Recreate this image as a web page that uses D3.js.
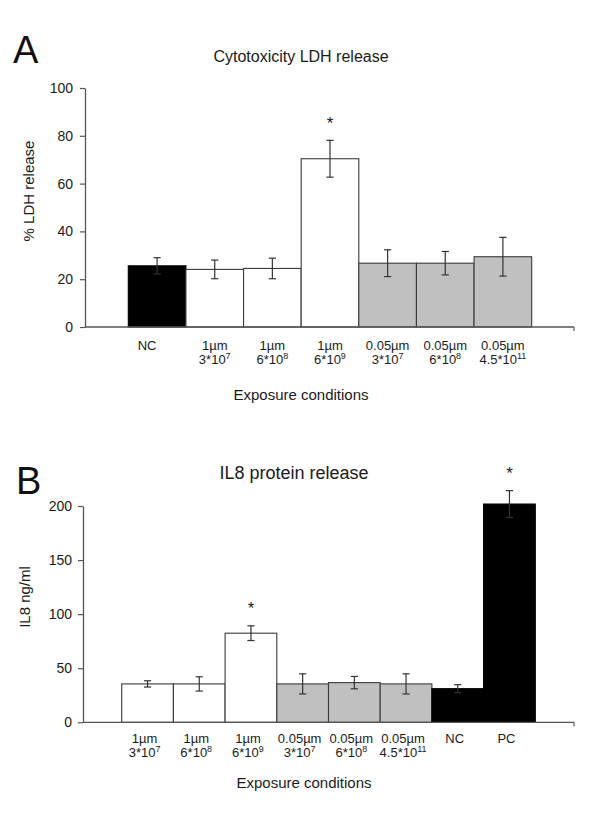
<!DOCTYPE html>
<html>
<head>
<meta charset="utf-8">
<script src="https://cdn.jsdelivr.net/npm/d3@7"></script>
<style>
  html, body { margin: 0; padding: 0; background: #fff; }
  svg { display: block; font-family: "Liberation Sans", Arial, sans-serif; }
</style>
</head>
<body>
<svg id="chart" width="600" height="835"></svg>
<script>
// ---------- Panel A: Cytotoxicity LDH release ----------
const ldhLine1 = ["NC", "1µm", "1µm", "1µm", "0.05µm", "0.05µm", "0.05µm"];
const ldhLine2Base = ["", "3*10", "6*10", "6*10", "3*10", "6*10", "4.5*10"];
const ldhLine2Exp = ["", "7", "8", "9", "7", "8", "11"];
const ldhGroups = ["control", "1µm", "1µm", "1µm", "0.05µm", "0.05µm", "0.05µm"];
const ldhValues = [25.6, 24.1, 24.5, 70.4, 26.7, 26.7, 29.4];
const ldhErrors = [3.4, 3.9, 4.3, 7.7, 5.6, 4.9, 8.1];
const ldhSignificant = [false, false, false, true, false, false, false];
const ldhTicks = [0, 20, 40, 60, 80, 100];

// ---------- Panel B: IL8 protein release ----------
const il8Line1 = ["1µm", "1µm", "1µm", "0.05µm", "0.05µm", "0.05µm", "NC", "PC"];
const il8Line2Base = ["3*10", "6*10", "6*10", "3*10", "6*10", "4.5*10", "", ""];
const il8Line2Exp = ["7", "8", "9", "7", "8", "11", "", ""];
const il8Groups = ["1µm", "1µm", "1µm", "0.05µm", "0.05µm", "0.05µm", "control", "control"];
const il8Values = [35.5, 35.5, 82.4, 35.5, 36.7, 35.5, 31.1, 201.8];
const il8Errors = [2.9, 6.6, 6.8, 9.3, 5.7, 9.3, 3.7, 12.4];
const il8Significant = [false, false, true, false, false, false, false, true];
const il8Ticks = [0, 50, 100, 150, 200];

const groupNames = ["control", "1µm", "0.05µm"];
const groupColors = ["#000000", "#ffffff", "#c0c0c0"];

const svg = d3.select("#chart");
const color = d3.scaleOrdinal().domain(groupNames).range(groupColors);
const textColor = "#1a1a1a";
const axisColor = "#555";

function drawPanel(p) {
  const g = svg.append("g");
  const n = p.values.length;
  const x = d3.scaleBand().domain(d3.range(n)).range(p.xRange).padding(0);
  const y = d3.scaleLinear().domain([0, d3.max(p.ticks)]).range(p.yRange);

  // panel letter
  g.append("text").attr("x", p.letterX).attr("y", p.letterY)
    .attr("font-size", p.letterSize).attr("fill", "#111").text(p.letter);
  // title
  g.append("text").attr("x", p.titleX).attr("y", p.titleY)
    .attr("text-anchor", "middle").attr("font-size", p.titleSize)
    .attr("fill", textColor).text(p.title);

  // bars
  g.selectAll("rect.bar").data(p.values).join("rect")
    .attr("class", "bar")
    .attr("x", (d, i) => x(i))
    .attr("y", d => y(d))
    .attr("width", x.bandwidth())
    .attr("height", d => y(0) - y(d))
    .attr("fill", (d, i) => color(p.groups[i]))
    .attr("stroke", (d, i) => p.groups[i] === "control" ? "#000" : "#3a3a3a")
    .attr("stroke-width", 1.1);

  // error bars
  const cap = 3.6;
  const eb = g.append("g").attr("stroke", "#333").attr("stroke-width", 1.2).attr("fill", "none");
  p.values.forEach((v, i) => {
    const cx = x(i) + x.bandwidth() / 2;
    const hi = y(v + p.errors[i]), lo = y(v - p.errors[i]);
    eb.append("line").attr("x1", cx).attr("x2", cx).attr("y1", hi).attr("y2", lo);
    eb.append("line").attr("x1", cx - cap).attr("x2", cx + cap).attr("y1", hi).attr("y2", hi);
    eb.append("line").attr("x1", cx - cap).attr("x2", cx + cap).attr("y1", lo).attr("y2", lo);
    if (p.significant[i]) {
      g.append("text").attr("x", cx).attr("y", hi - 11.5)
        .attr("text-anchor", "middle").attr("font-size", 17)
        .attr("fill", textColor).text("*");
    }
  });

  // y axis
  const yAxis = d3.axisLeft(y).tickValues(p.ticks).tickSize(5).tickSizeOuter(0).tickPadding(p.tickPad);
  const ya = g.append("g").attr("transform", `translate(${p.axisX},0)`).call(yAxis);
  ya.select(".domain").attr("stroke", axisColor).attr("stroke-width", 1.3);
  ya.selectAll(".tick line").attr("stroke", axisColor).attr("stroke-width", 1.2);
  ya.selectAll(".tick text").attr("font-size", 14).attr("fill", textColor)
    .attr("font-family", "Liberation Sans, Arial, sans-serif");

  // x axis line
  g.append("line").attr("x1", p.axisX).attr("x2", p.axisRight)
    .attr("y1", y(0)).attr("y2", y(0))
    .attr("stroke", axisColor).attr("stroke-width", 1.3);
  g.append("line").attr("x1", p.axisRight).attr("x2", p.axisRight)
    .attr("y1", y(0)).attr("y2", y(0) + 4)
    .attr("stroke", axisColor).attr("stroke-width", 1.2);

  // category labels (one text element per category, two lines)
  p.line1.forEach((t, i) => {
    const cx = x(i) + x.bandwidth() / 2 + p.labelDx + (p.firstDx && i === 0 ? p.firstDx : 0);
    const tx = g.append("text").attr("text-anchor", "middle").attr("font-size", 13)
      .attr("fill", textColor).attr("x", cx).attr("y", p.label1Y);
    tx.append("tspan").attr("x", cx).attr("y", p.label1Y).text(t);
    if (p.line2Base[i]) {
      tx.append("tspan").attr("x", cx).attr("y", p.label2Y).text(p.line2Base[i]);
      tx.append("tspan").attr("font-size", 9).attr("dy", -5).text(p.line2Exp[i]);
    }
  });

  // x axis title
  g.append("text").attr("x", p.xTitleX).attr("y", p.xTitleY)
    .attr("text-anchor", "middle").attr("font-size", 15)
    .attr("fill", textColor).text("Exposure conditions");

  // y axis title
  g.append("text")
    .attr("transform", `translate(${p.yTitleX},${p.yTitleY}) rotate(-90)`)
    .attr("text-anchor", "middle").attr("font-size", 15)
    .attr("fill", textColor).text(p.yTitle);
}

drawPanel({
  letter: "A", letterX: 13, letterY: 63, letterSize: 38,
  title: "Cytotoxicity LDH release", titleX: 301, titleY: 62, titleSize: 16,
  values: ldhValues, errors: ldhErrors, groups: ldhGroups, significant: ldhSignificant,
  ticks: ldhTicks, line1: ldhLine1, line2Base: ldhLine2Base, line2Exp: ldhLine2Exp,
  xRange: [128.3, 531.7], yRange: [327, 88], axisX: 85, axisRight: 574, tickPad: 7,
  label1Y: 349.5, label2Y: 363.5, labelDx: 0, firstDx: -10,
  xTitleX: 301, xTitleY: 400,
  yTitle: "% LDH release", yTitleX: 34, yTitleY: 191
});

drawPanel({
  letter: "B", letterX: 16, letterY: 494, letterSize: 38,
  title: "IL8 protein release", titleX: 294, titleY: 479, titleSize: 18,
  values: il8Values, errors: il8Errors, groups: il8Groups, significant: il8Significant,
  ticks: il8Ticks, line1: il8Line1, line2Base: il8Line2Base, line2Exp: il8Line2Exp,
  xRange: [121.7, 535.3], yRange: [722.3, 506], axisX: 83, axisRight: 574, tickPad: 6,
  label1Y: 743, label2Y: 757, labelDx: -3, firstDx: 0,
  xTitleX: 304, xTitleY: 788,
  yTitle: "IL8 ng/ml", yTitleX: 30, yTitleY: 597
});
</script>
</body>
</html>
